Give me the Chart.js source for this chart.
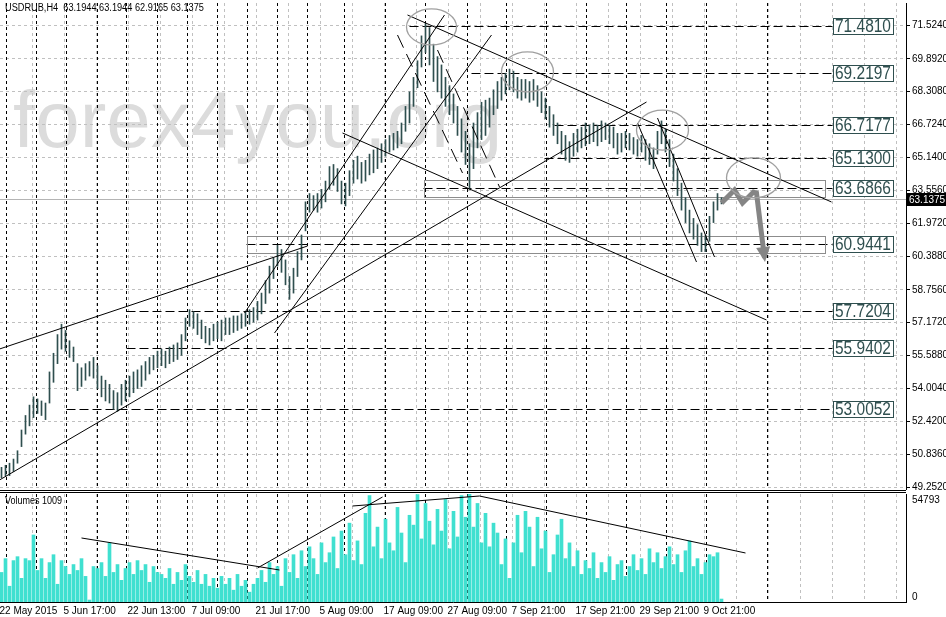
<!DOCTYPE html>
<html><head><meta charset="utf-8">
<script src="https://cdn.jsdelivr.net/npm/chart.js@4.4.0/dist/chart.umd.min.js"></script>
<style>
html,body{margin:0;padding:0;background:#fff;width:946px;height:617px;overflow:hidden}
#wrap{position:relative;width:946px;height:617px}
canvas{position:absolute;left:0}
#pc{top:0;width:946px;height:493px}
#vc{top:493px;width:946px;height:124px}
</style></head><body>
<div id="wrap"><canvas id="pc" width="946" height="493"></canvas><canvas id="vc" width="946" height="124"></canvas></div>
<script>
const SYMBOL = 'USDRUB,H4';
const LAST_OHLC = [63.1944, 63.1944, 62.9165, 63.1375];
const LAST_PRICE = 63.1375;
const WATERMARK = 'forex4you.org';
const VOLUME_LABEL = 'Volumes 1009';
const VOLUME_MAX = 54793;

const priceTicks = [71.5240, 69.8920, 68.3080, 66.7240, 65.1400, 63.5560, 61.9720, 60.3880, 58.7560, 57.1720, 55.5880, 54.0040, 52.4200, 50.8360, 49.2520];
const timeLabels = ['22 May 2015','5 Jun 17:00','22 Jun 13:00','7 Jul 09:00','21 Jul 17:00','5 Aug 09:00','17 Aug 09:00','27 Aug 09:00','7 Sep 21:00','17 Sep 21:00','29 Sep 21:00','9 Oct 21:00'];
const timeLabelBars = [0, 16, 32, 48, 64, 80, 96, 112, 128, 144, 160, 176];
const separatorBars = [1, 8.5, 16, 23.75, 31.25, 38.75, 46.25, 53.75, 61.25, 68.75, 76.25, 85.5, 95.75, 105.75, 116.25, 126, 136, 146, 156, 166, 176, 191.25];

const lows = [
 49.7, 49.8, 49.8, 50.0, 50.4, 51.2, 51.8, 52.2, 52.6, 52.8,
 52.7, 52.5, 53.3, 54.3, 55.2, 55.9, 55.8, 55.5, 55.3, 53.9,
 54.1, 54.4, 54.6, 54.5, 54.0, 53.6, 53.4, 53.3, 53.0, 52.9,
 53.2, 53.4, 53.6, 53.8, 54.0, 54.1, 54.4, 54.7, 54.9, 55.0,
 55.1, 55.0, 55.2, 55.3, 55.4, 55.6, 56.3, 57.0, 56.9, 56.6,
 56.4, 56.2, 56.1, 56.3, 56.4, 56.3, 56.6, 56.6, 56.7, 56.8,
 56.9, 57.0, 57.1, 57.2, 57.3, 57.6, 58.1, 58.6, 59.3, 59.9,
 59.6, 59.0, 58.3, 58.6, 59.4, 60.2, 61.6, 62.5, 62.6, 62.5,
 62.7, 63.0, 63.6, 63.8, 63.5, 62.9, 62.8, 63.3, 63.9, 64.1,
 63.9, 64.0, 64.3, 64.4, 64.6, 64.9, 65.2, 65.4, 65.5, 65.6,
 65.8, 66.4, 66.8, 67.6, 68.5, 69.5, 70.2, 69.6, 68.8, 68.3,
 68.0, 67.6, 67.2, 66.8, 66.2, 65.4, 64.8, 63.6, 64.6, 65.6,
 66.0, 66.2, 66.6, 67.2, 67.5, 67.9, 68.2, 68.4, 68.3, 68.0,
 67.9, 68.0, 67.8, 67.9, 67.6, 67.3, 67.0, 66.6, 66.2, 65.8,
 65.3, 65.0, 64.9, 65.2, 65.4, 65.6, 65.7, 65.8, 65.9, 65.7,
 65.9, 66.0, 65.8, 65.6, 65.3, 65.4, 65.6, 65.5, 65.3, 65.2,
 65.4, 65.0, 64.8, 64.6, 65.3, 65.8, 65.4, 64.7, 64.0, 63.3,
 62.6, 62.0, 61.5, 61.2, 60.9, 60.6, 60.6, 61.1, 62.0, 62.6,
 62.9
];
const highs = [
 50.2, 50.3, 50.4, 50.6, 51.0, 52.0, 52.7, 53.2, 53.6, 53.5,
 53.4, 53.3, 54.8, 55.7, 56.6, 57.1, 56.8, 56.3, 56.0, 55.2,
 55.0, 55.2, 55.3, 55.5, 55.1, 54.6, 54.4, 54.2, 53.9, 53.8,
 54.2, 54.4, 54.6, 54.8, 54.9, 55.1, 55.3, 55.5, 55.6, 55.8,
 55.9, 55.8, 56.0, 56.1, 56.2, 56.6, 57.4, 57.8, 57.7, 57.6,
 57.3, 57.0, 56.9, 57.1, 57.2, 57.3, 57.4, 57.4, 57.5, 57.5,
 57.6, 57.7, 57.8, 57.9, 58.2, 58.6, 59.2, 59.9, 60.3, 60.9,
 60.7, 60.2, 59.4, 59.8, 60.6, 61.4, 63.0, 63.4, 63.3, 63.4,
 63.6, 64.0, 64.7, 64.8, 64.6, 64.0, 63.9, 64.5, 65.0, 65.2,
 64.9, 65.0, 65.3, 65.5, 65.6, 65.8, 66.0, 66.2, 66.3, 66.4,
 66.8, 67.6, 68.3, 69.0, 69.8, 71.0, 71.6, 71.4, 70.6, 70.0,
 69.6, 69.0, 68.6, 68.2, 67.6, 67.0, 66.4, 65.8, 66.8, 67.3,
 67.8, 67.9, 68.0, 68.4, 68.8, 69.0, 69.2, 69.4, 69.3, 69.0,
 68.9, 68.9, 68.8, 68.9, 68.6, 68.3, 68.0, 67.6, 67.2, 66.8,
 66.4, 66.2, 65.9, 66.3, 66.5, 66.6, 66.8, 66.7, 66.8, 66.7,
 66.9, 66.8, 66.7, 66.6, 66.3, 66.3, 66.4, 66.3, 66.1, 66.0,
 66.2, 66.0, 65.8, 65.6, 66.4, 66.9, 66.5, 66.0, 65.3, 64.6,
 63.9, 63.2, 62.6, 62.2, 61.9, 61.5, 61.4, 62.3, 63.0, 63.4,
 63.2
];
const volumes = [
 15000, 22000, 8000, 21000, 23000, 12000, 22000, 21000, 34000, 16000,
 22000, 12000, 20000, 24000, 9000, 21000, 18000, 14000, 19000, 16000,
 22000, 13000, 1000, 18000, 17000, 20000, 13000, 30000, 15000, 19000,
 11000, 17000, 20000, 14000, 21000, 16000, 19000, 10000, 18000, 15000,
 14000, 12000, 17000, 9000, 15000, 11000, 19000, 13000, 10000, 16000,
 9000, 14000, 8000, 12000, 7000, 13000, 9000, 12000, 6000, 14000,
 8000, 11000, 5000, 9000, 12000, 16000, 10000, 20000, 14000, 18000,
 8000, 22000, 15000, 24000, 12000, 26000, 18000, 28000, 22000, 14000,
 30000, 20000, 25000, 33000, 17000, 36000, 24000, 40000, 21000, 31000,
 19000, 45000, 54000, 28000, 38000, 22000, 42000, 30000, 26000, 48000,
 35000, 20000, 44000, 39000, 54500, 32000, 50000, 41000, 29000, 47000,
 36000, 52000, 27000, 46000, 33000, 54000, 43000, 54700, 38000, 50000,
 30000, 45000, 28000, 40000, 35000, 19000, 32000, 12000, 30000, 44000,
 25000, 46000, 38000, 18000, 43000, 27000, 36000, 15000, 24000, 34000,
 42000, 22000, 30000, 18000, 26000, 14000, 21000, 17000, 25000, 12000,
 20000, 15000, 23000, 11000, 19000, 21000, 13000, 18000, 24000, 16000,
 22000, 14000, 27000, 20000, 25000, 17000, 23000, 28000, 19000, 24000,
 15000, 26000, 31000, 18000, 22000, 14000, 20000, 24000, 23000, 25000,
 1500
];

// horizontal levels (price) and the bar where each starts
const levelPrices = [71.4810, 69.2197, 66.7177, 65.1300, 63.6866, 60.9441, 57.7204, 55.9402, 53.0052];
const levelStartBars = [102, 117.5, 138.25, 135.75, 105.5, 61.25, 31.25, 31.25, 16.25];
const levelEndBar = 207.75;
// zones
const zoneStartBars = [105.5, 61.25];
const zoneEndBars = [205.75, 205.75];
const zoneTops = [64.05, 61.35];
const zoneBottoms = [63.23, 60.53];
// trendlines [bar1, price1, bar2, price2]
const trendSolid = [
  [-0.5, 55.905, 76.5, 60.870],
  [-0.5, 49.590, 161.25, 67.812],
  [60.75, 57.640, 110.75, 72.006],
  [68.25, 56.676, 122.5, 71.042],
  [101.5, 72.006, 207.5, 62.991],
  [85.25, 66.318, 191.25, 57.303],
  [159, 66.800, 173.75, 60.099],
  [164, 67.041, 178.25, 60.340]
];
const trendDashed = [
  [99, 71.042, 115.25, 64.389],
  [109, 70.319, 124.5, 63.715]
];
const ellipseBars = [107.5, 131.5, 165.25, 188];
const ellipsePrices = [71.43, 69.26, 66.46, 64.15];
const forecastBars = [180, 183.25, 185.25, 188, 188.75, 190.75];
const forecastPrices = [62.94, 63.57, 62.94, 63.47, 63.42, 60.29];
const volTrendlines = [
  [20, 32470, 69.5, 16234],
  [64, 17250, 95.25, 53270],
  [87.75, 48700, 119.5, 53774],
  [119.5, 53774, 186, 24860]
];

const FONT = '"Liberation Sans", Arial, sans-serif';
Chart.defaults.font.family = FONT;
Chart.defaults.font.size = 10;
Chart.defaults.color = '#000';
const X_MIN = -0.375, X_MAX = 226.125;
const GRID = '#c0c0c0';

function gridTicks(scale){ const t=[]; for(let k=1;k<=28;k++) t.push({value:8*k-0.25}); scale.ticks=t; }
function lineDS(pts, color, width, dash){
  return {type:'line', data:pts, borderColor:color, borderWidth:width, borderDash:dash||[], pointRadius:0, fill:false, tension:0};
}
function seg(t){ return [{x:t[0],y:t[1]},{x:t[2],y:t[3]}]; }
function clipArea(ctx,a){ ctx.beginPath(); ctx.rect(a.left,a.top,a.right-a.left,a.bottom-a.top); ctx.clip(); }
function drawSeparators(chart){
  const {ctx, chartArea:a, scales:{x}} = chart;
  ctx.save(); clipArea(ctx,a);
  ctx.strokeStyle='#000'; ctx.lineWidth=1; ctx.setLineDash([3,3]);
  separatorBars.forEach(b=>{ const xx=Math.round(x.getPixelForValue(b))+0.5; ctx.beginPath(); ctx.moveTo(xx,a.top); ctx.lineTo(xx,a.bottom); ctx.stroke(); });
  ctx.restore();
}

const ELLIPSE_RX = [25,26,26,27], ELLIPSE_RY = [18,20,20,20];

const pricePlugin = {
  id:'pricePlugin',
  beforeDraw(chart){
    const {ctx, chartArea:a} = chart;
    ctx.save();
    ctx.fillStyle='#fff'; ctx.fillRect(0,0,chart.width,chart.height);
    clipArea(ctx,a);
    ctx.font='80px '+FONT; ctx.fillStyle='#dcdcdc'; ctx.textBaseline='alphabetic';
    ctx.fillText(WATERMARK, a.left+13, 147);
    ctx.restore();
  },
  beforeDatasetsDraw(chart){
    const {ctx, chartArea:a, scales:{x,y}} = chart;
    drawSeparators(chart);
    ctx.save(); clipArea(ctx,a);
    ctx.strokeStyle='#000'; ctx.lineWidth=1; ctx.setLineDash([9,4]);
    levelPrices.forEach((p,i)=>{
      const yy=Math.round(y.getPixelForValue(p))+0.5;
      ctx.beginPath(); ctx.moveTo(x.getPixelForValue(levelStartBars[i]),yy); ctx.lineTo(x.getPixelForValue(levelEndBar),yy); ctx.stroke();
    });
    ctx.setLineDash([]); ctx.strokeStyle='#8c8c8c';
    zoneTops.forEach((t,i)=>{
      const x0=Math.round(x.getPixelForValue(zoneStartBars[i]))+0.5, x1=Math.round(x.getPixelForValue(zoneEndBars[i]))+0.5;
      const y0=Math.round(y.getPixelForValue(t))+0.5, y1=Math.round(y.getPixelForValue(zoneBottoms[i]))+0.5;
      ctx.strokeRect(x0,y0,x1-x0,y1-y0);
    });
    ctx.strokeStyle='#b4b4b4';
    const yl=Math.round(y.getPixelForValue(LAST_PRICE))+0.5;
    ctx.beginPath(); ctx.moveTo(a.left,yl); ctx.lineTo(a.right,yl); ctx.stroke();
    ctx.restore();
  },
  afterDatasetsDraw(chart){
    const {ctx, chartArea:a, scales:{x,y}} = chart;
    ctx.save(); clipArea(ctx,a);
    ctx.strokeStyle='#a0a0a0'; ctx.lineWidth=1.3;
    ellipseBars.forEach((b,i)=>{
      ctx.beginPath(); ctx.ellipse(x.getPixelForValue(b), y.getPixelForValue(ellipsePrices[i]), ELLIPSE_RX[i], ELLIPSE_RY[i], 0, 0, Math.PI*2); ctx.stroke();
    });
    const n=forecastBars.length;
    const x1=x.getPixelForValue(forecastBars[n-2]), y1=y.getPixelForValue(forecastPrices[n-2]);
    const x2=x.getPixelForValue(forecastBars[n-1]), y2=y.getPixelForValue(forecastPrices[n-1]);
    const ang=Math.atan2(y2-y1,x2-x1), c=Math.cos(ang), s=Math.sin(ang);
    const tx=x2+c*4, ty=y2+s*4, bx=tx-c*15, by=ty-s*15;
    ctx.fillStyle='#858585'; ctx.beginPath(); ctx.moveTo(tx,ty); ctx.lineTo(bx-s*7,by+c*7); ctx.lineTo(bx+s*7,by-c*7); ctx.closePath(); ctx.fill();
    levelPrices.forEach(p=>{
      const yy=Math.round(y.getPixelForValue(p));
      ctx.fillStyle='#fff'; ctx.fillRect(833,yy-8,61,17);
      ctx.strokeStyle='#2f4f4f'; ctx.lineWidth=1; ctx.strokeRect(833.5,yy-7.5,60,16);
      ctx.save(); ctx.translate(835,yy+1); ctx.scale(0.86,1);
      ctx.font='18px '+FONT; ctx.fillStyle='#2f4f4f'; ctx.textBaseline='middle';
      ctx.fillText(p.toFixed(4),0,0); ctx.restore();
    });
    ctx.restore();
  },
  afterDraw(chart){
    const {ctx, chartArea:a, scales:{y}} = chart;
    ctx.save();
    ctx.translate(5,8); ctx.scale(0.92,1);
    ctx.font='10px '+FONT; ctx.fillStyle='#000'; ctx.textBaseline='middle';
    ctx.fillText(SYMBOL+'  '+LAST_OHLC.map(v=>v.toFixed(4)).join(' '),0,0);
    ctx.restore();
    ctx.save();
    const yy=Math.round(y.getPixelForValue(LAST_PRICE));
    ctx.fillStyle='#000'; ctx.fillRect(a.right+1,yy-6,39,13);
    ctx.fillStyle='#fff'; ctx.font='10px '+FONT; ctx.textBaseline='middle';
    ctx.fillText(LAST_PRICE.toFixed(4), a.right+3, yy+1);
    ctx.strokeStyle='#000'; ctx.lineWidth=1;
    ctx.beginPath(); ctx.moveTo(0,490.5); ctx.lineTo(a.right,490.5); ctx.moveTo(0,492.5); ctx.lineTo(a.right,492.5); ctx.stroke();
    ctx.restore();
  }
};

const priceDatasets = [];
trendSolid.forEach(t=>priceDatasets.push(lineDS(seg(t),'#000',1)));
trendDashed.forEach(t=>priceDatasets.push(lineDS(seg(t),'#000',1,[14,7])));
priceDatasets.push(Object.assign(lineDS(forecastBars.map((b,i)=>({x:b,y:forecastPrices[i]})),'#858585',5),{borderJoinStyle:'miter',borderCapStyle:'butt'}));
priceDatasets.push({type:'bar', data:lows.map((lo,i)=>({x:i,y:[lo,highs[i]]})), backgroundColor:'#2f4f4f', borderWidth:0, barThickness:1});

new Chart(document.getElementById('pc'), {
  type:'bar',
  data:{datasets:priceDatasets},
  options:{
    responsive:false, animation:false, events:[], devicePixelRatio:1,
    layout:{padding:{top:3,bottom:4,left:0,right:0}},
    plugins:{legend:{display:false}, tooltip:{enabled:false}},
    scales:{
      x:{type:'linear', min:X_MIN, max:X_MAX, offset:false, position:'bottom',
         ticks:{display:false}, grid:{color:GRID, drawTicks:false, offset:false},
         border:{display:false, dash:[3,3]},
         afterBuildTicks:gridTicks,
         afterFit(s){ s.height=0; s.paddingLeft=0; s.paddingRight=0; }},
      y:{type:'linear', position:'right', min:49.156, max:72.585, beginAtZero:false,
         afterBuildTicks(s){ s.ticks=priceTicks.map(v=>({value:v})); },
         ticks:{callback:v=>Number(v).toFixed(4), padding:2, autoSkip:false, color:'#000', font:{size:10}},
         grid:{color:GRID, tickColor:'#000', tickLength:4, drawTicks:true},
         border:{display:true, color:'#000', width:1, dash:[3,3]},
         afterFit(s){ s.width=40; s.paddingTop=0; s.paddingBottom=0; }}
    }
  },
  plugins:[pricePlugin]
});

const volPlugin = {
  id:'volPlugin',
  beforeDraw(chart){ const {ctx}=chart; ctx.save(); ctx.fillStyle='#fff'; ctx.fillRect(0,0,chart.width,chart.height); ctx.restore(); },
  beforeDatasetsDraw(chart){ drawSeparators(chart); },
  afterDraw(chart){
    const {ctx, chartArea:a} = chart;
    ctx.save();
    ctx.font='10px '+FONT; ctx.fillStyle='#000'; ctx.textBaseline='middle';
    ctx.save(); ctx.translate(5,a.top+7); ctx.scale(0.9,1); ctx.fillText(VOLUME_LABEL,0,0); ctx.restore();
    ctx.fillText(String(VOLUME_MAX), a.right+6, a.top+6);
    ctx.fillText('0', a.right+6, a.bottom-5);
    ctx.restore();
  }
};

const volDatasets = volTrendlines.map(t=>lineDS(seg(t),'#000',1));
volDatasets.push({type:'bar', data:volumes.map((v,i)=>({x:i,y:v})), backgroundColor:'#40e0d0', borderWidth:0, barThickness:3});

new Chart(document.getElementById('vc'), {
  type:'bar',
  data:{datasets:volDatasets},
  options:{
    responsive:false, animation:false, events:[], devicePixelRatio:1,
    layout:{padding:{top:1,bottom:0,left:0,right:0}},
    plugins:{legend:{display:false}, tooltip:{enabled:false}},
    scales:{
      x:{type:'linear', min:X_MIN, max:X_MAX, offset:false, position:'bottom',
         afterBuildTicks(s){ s.ticks=timeLabelBars.map(b=>({value:b-0.5})); },
         ticks:{autoSkip:false, maxRotation:0, minRotation:0, align:'start', padding:3, color:'#000', font:{size:10},
                callback:(v,i)=>timeLabels[i]},
         grid:{display:true, drawOnChartArea:false, drawTicks:false, offset:false},
         border:{display:true, color:'#000'},
         afterFit(s){ s.height=15; s.paddingLeft=0; s.paddingRight=0; }},
      x2:{type:'linear', min:X_MIN, max:X_MAX, offset:false, position:'bottom',
         ticks:{display:false}, grid:{color:GRID, drawTicks:false, offset:false},
         border:{display:false, dash:[3,3]},
         afterBuildTicks:gridTicks,
         afterFit(s){ s.height=0; s.paddingLeft=0; s.paddingRight=0; }},
      y:{type:'linear', position:'right', min:0, max:VOLUME_MAX, beginAtZero:true,
         ticks:{display:false}, grid:{display:false},
         border:{display:true, color:'#000'},
         afterFit(s){ s.width=40; s.paddingTop=0; s.paddingBottom=0; }}
    }
  },
  plugins:[volPlugin]
});
</script></body></html>
